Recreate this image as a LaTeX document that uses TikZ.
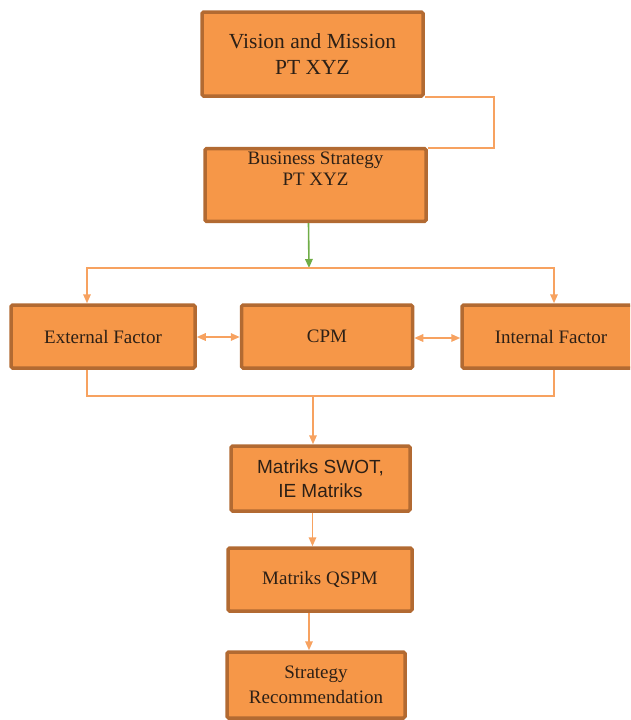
\documentclass[tikz,border=0pt]{standalone}
\usepackage{fontspec}
\setmainfont{Liberation Serif}
\setsansfont{Liberation Sans}
\usetikzlibrary{arrows.meta,calc,positioning}
\definecolor{boxfill}{RGB}{246,151,72}
\definecolor{boxedge}{RGB}{178,106,50}
\definecolor{lineor}{RGB}{247,162,96}
\definecolor{linegr}{RGB}{112,173,71}
\definecolor{txt}{RGB}{45,32,22}
\tikzset{
  stagebox/.style={rectangle,rounded corners=1.5pt,fill=boxfill,draw=boxedge,
    line width=3.5pt,align=center,inner sep=3pt,text=txt,
    font=\fontsize{19}{22}\selectfont},
  link/.style={draw=lineor,line width=1.6pt},
  arr/.style={link,-{Triangle[length=9pt,width=7.5pt]}},
  dblarr/.style={link,{Triangle[length=9pt,width=7.5pt]}-{Triangle[length=9pt,width=7.5pt]}},
  garr/.style={draw=linegr,line width=1.6pt,-{Triangle[length=9pt,width=7.5pt]}}
}

\begin{document}
\begin{tikzpicture}[x=1pt,y=-1pt]
  \useasboundingbox (0,0) rectangle (630,720);
  \clip (0,0) rectangle (630,720);
  % top part
  \node[stagebox,minimum width=221pt,minimum height=84pt,
    font=\fontsize{21.5}{26}\selectfont] (vision) at (312.5,54)
    {Vision and Mission\\PT XYZ};
  \node[stagebox,minimum width=221pt,minimum height=68pt,
    font=\fontsize{19}{21}\selectfont] (business) at (315.5,185)
    {Business Strategy\\PT XYZ\\[12pt]\mbox{}};
  \coordinate (turn) at (494,125);
  \draw[link] ([yshift=0.5pt]vision.south east) -| (turn)
    |- ([yshift=-1pt]business.north east);
  % factors
  \node[stagebox,minimum width=184pt,minimum height=63pt] (ext) at (103,336.5)
    {External Factor};
  \node[stagebox,minimum width=171pt,minimum height=63pt] (cpm) at (327,336.5)
    {CPM};
  \node[stagebox,minimum width=178pt,minimum height=63pt] (int) at (551,336.5)
    {Internal Factor};
  \coordinate (split) at (309,268);
  \draw[garr] ([xshift=-7pt]business.south) -- (split);
  \draw[arr] (split) -| ([xshift=-16pt]ext.north);
  \draw[arr] (split) -| ([xshift=3pt]int.north);
  \draw[dblarr] ([yshift=-0.5pt]ext.east) -- ([yshift=-0.5pt]cpm.west);
  \draw[dblarr] ([yshift=-1.5pt]cpm.east) -- ([yshift=-1.5pt]int.west);
  % matrices
  \node[stagebox,minimum width=179pt,minimum height=65pt,
    font=\sffamily\fontsize{19}{24}\selectfont] (swot) at (320.5,478.5)
    {Matriks SWOT,\\IE Matriks};
  \node[stagebox,minimum width=184pt,minimum height=63pt] (qspm) at (320,579.5)
    {Matriks QSPM};
  \node[stagebox,minimum width=178pt,minimum height=66pt,
    font=\fontsize{19}{25}\selectfont] (reco) at (316,685)
    {Strategy\\Recommendation};
  \coordinate (merge) at (313,396);
  \draw[link] ([xshift=-16pt]ext.south) |- (merge);
  \draw[link] ([xshift=3pt]int.south) |- (merge);
  \draw[arr] (merge) -- (merge |- swot.north);
  \draw[arr] ([xshift=-8pt]swot.south) -- ([xshift=-8pt]swot.south |- qspm.north);
  \draw[arr] ([xshift=-11pt]qspm.south) -- ([xshift=-11pt]qspm.south |- reco.north);
\end{tikzpicture}
\end{document}
